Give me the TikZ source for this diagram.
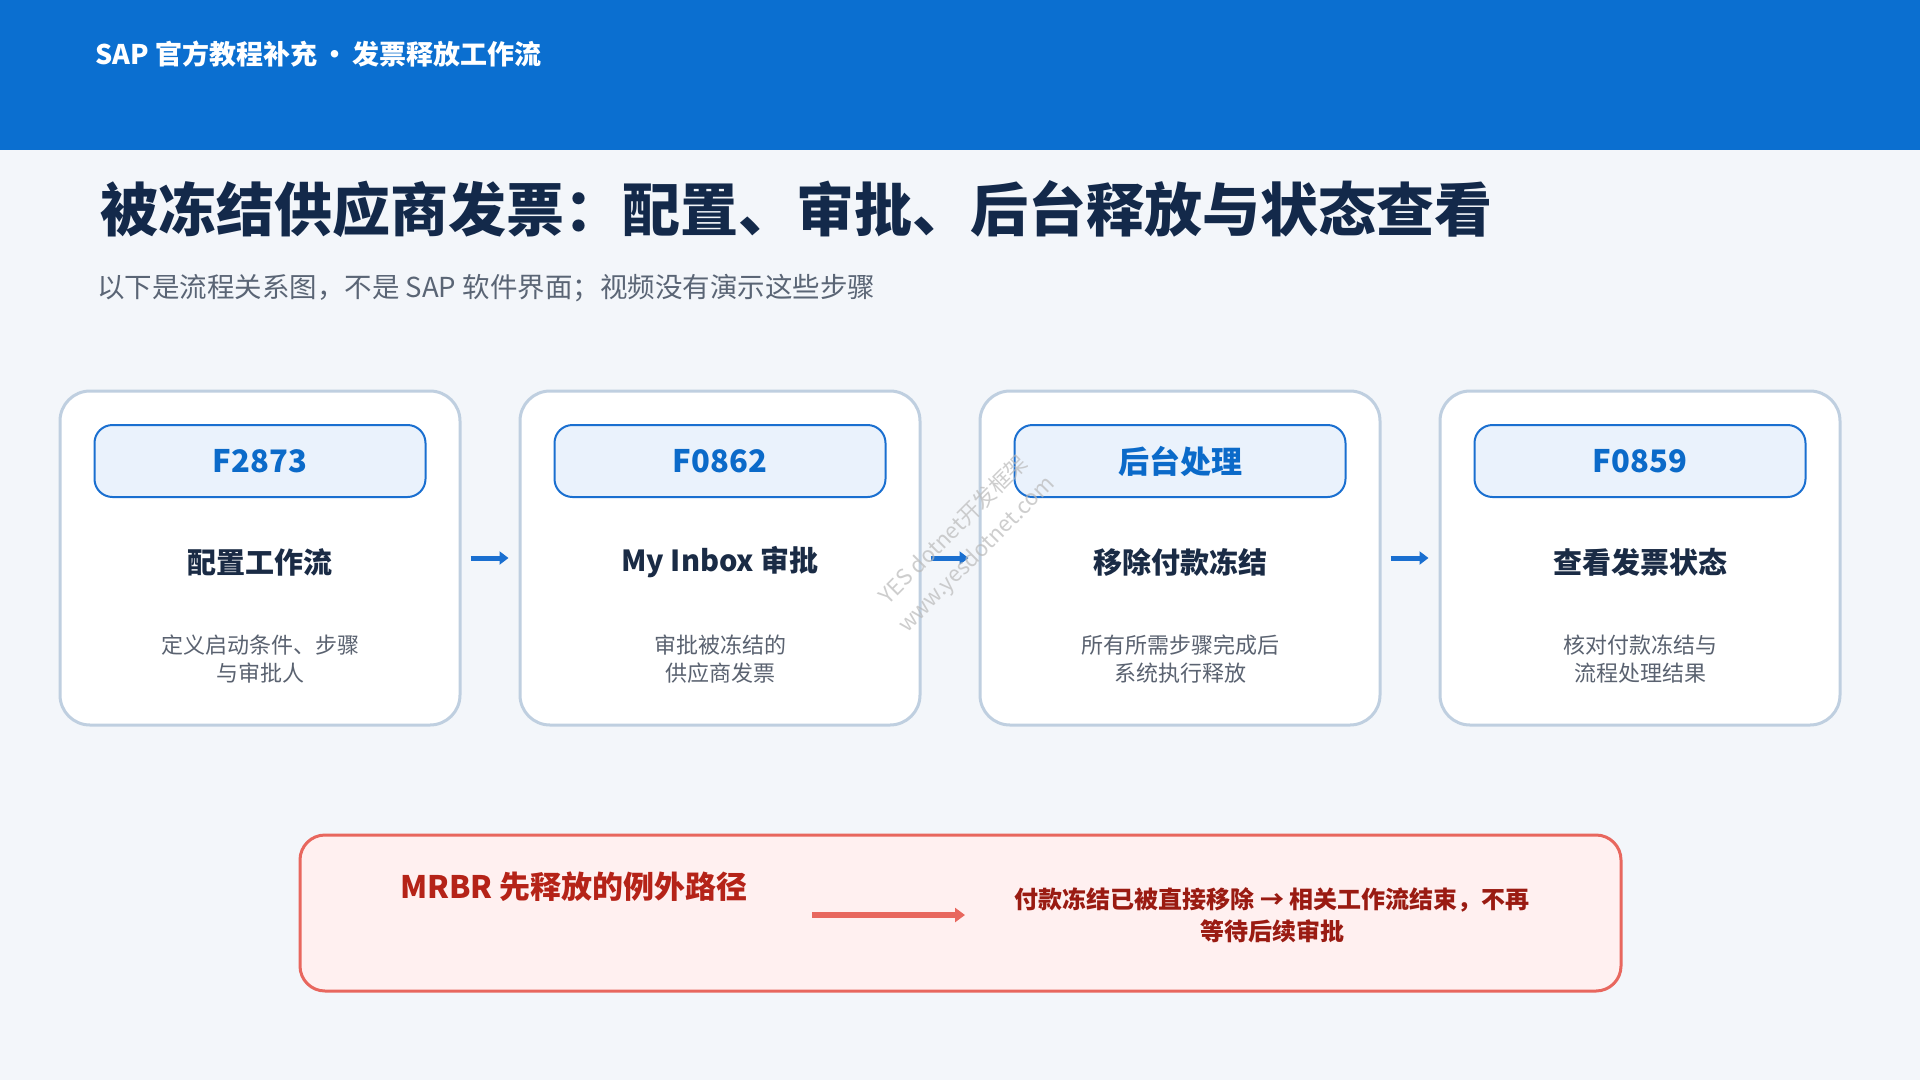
\documentclass[tikz,border=0pt]{standalone}
\usepackage{fontspec}
\setmainfont{Noto Sans CJK SC}
\usetikzlibrary{arrows.meta}
\definecolor{bgc}{HTML}{F3F6FA}
\definecolor{headc}{HTML}{0B6FD0}
\definecolor{titlec}{HTML}{13294A}
\definecolor{subc}{HTML}{5A6575}
\definecolor{cardline}{HTML}{BFCFE0}
\definecolor{badgefill}{HTML}{EAF2FC}
\definecolor{badgeline}{HTML}{1A6FD0}
\definecolor{badgetext}{HTML}{0B6AC9}
\definecolor{headtext}{HTML}{1A2B45}
\definecolor{desctext}{HTML}{5A6270}
\definecolor{redfill}{HTML}{FFF0F0}
\definecolor{redline}{HTML}{E8675E}
\definecolor{redtext}{HTML}{B52318}
\definecolor{redtext2}{HTML}{9A1B12}
\newcommand{\fs}[1]{\fontsize{#1}{#1}\selectfont}
\tikzset{
  card/.style={draw=cardline, line width=3pt, fill=white, rounded corners=30pt, minimum width=400pt, minimum height=334pt, inner sep=0pt},
  badge/.style={draw=badgeline, line width=2pt, fill=badgefill, rounded corners=18pt, minimum width=331pt, minimum height=72pt, inner sep=0pt, text=badgetext, font=\fs{31}\bfseries},
  heading/.style={text=headtext, font=\fs{29}\bfseries, inner sep=0pt},
  desc/.style={text=desctext, font=\fontsize{22}{28}\selectfont, align=center, inner sep=0pt},
  flowarrow/.style={draw=badgeline, line width=5pt, -{Triangle[length=9pt,width=13pt]}},
  wm/.style={text=gray!55, opacity=0.7, font=\fs{22}, rotate=45, inner sep=0pt}
}
\begin{document}
\begin{tikzpicture}[x=1pt,y=-1pt]
\fill[bgc] (0,0) rectangle (1920,1080);
\useasboundingbox (0,0) rectangle (1920,1080);
\fill[headc] (0,0) rectangle (1920,150);
\node[anchor=west, text=white, font=\fs{27}\bfseries, inner sep=0pt] (hdr) at (95,54) {SAP 官方教程补充\,•\,发票释放工作流};
\node[anchor=west, text=titlec, font=\fs{58}\bfseries, inner sep=0pt] (title) at (100,209) {被冻结供应商发票：配置、审批、后台释放与状态查看};
\node[anchor=west, text=subc, font=\fs{27.5}, inner sep=0pt] (sub) at (97,288) {以下是流程关系图，不是 SAP 软件界面；视频没有演示这些步骤};

% cards
\node[card] (c1) at (260,558) {};
\node[card] (c2) at (720,558) {};
\node[card] (c3) at (1180,558) {};
\node[card] (c4) at (1640,558) {};

\node[badge] (b1) at (260,461) {F2873};
\node[badge] (b2) at (720,461) {F0862};
\node[badge] (b3) at (1180,461) {后台处理};
\node[badge] (b4) at (1640,461) {F0859};

\node[heading] (h1) at (260,562) {配置工作流};
\node[heading] (h2) at (720,562) {My Inbox 审批};
\node[heading] (h3) at (1180,562) {移除付款冻结};
\node[heading] (h4) at (1640,562) {查看发票状态};

\node[desc] (d1) at (260,659) {定义启动条件、步骤\\与审批人};
\node[desc] (d2) at (720,659) {审批被冻结的\\供应商发票};
\node[desc] (d3) at (1180,659) {所有所需步骤完成后\\系统执行释放};
\node[desc] (d4) at (1640,659) {核对付款冻结与\\流程处理结果};

\draw[flowarrow, shorten <=9pt, shorten >=10pt] (c1.east) -- (c2.west);
\draw[flowarrow, shorten <=9pt, shorten >=10pt] (c2.east) -- (c3.west);
\draw[flowarrow, shorten <=9pt, shorten >=10pt] (c3.east) -- (c4.west);

% exception box
\node[draw=redline, line width=3pt, fill=redfill, rounded corners=25pt, minimum width=1321pt, minimum height=156pt, inner sep=0pt] (ex) at (960.5,913) {};
\node[anchor=west, text=redtext, font=\fs{31}\bfseries, inner sep=0pt] (exl) at (400,887) {MRBR 先释放的例外路径};
\node[text=redtext2, font=\fontsize{24}{32}\bfseries\selectfont, align=center, inner sep=0pt] (exr) at (1272,915) {付款冻结已被直接移除 → 相关工作流结束，不再\\等待后续审批};
\coordinate (ea) at (812,915);
\coordinate (eb) at (965,915);
\draw[draw=redline, line width=6pt, -{Triangle[length=10pt,width=14pt]}] (ea) -- (eb);

% watermark
\node[wm] (wm1) at (953,529) {YES dotnet开发框架};
\node[wm] (wm2) at (977,555) {www.yesdotnet.com};
\end{tikzpicture}
\end{document}
